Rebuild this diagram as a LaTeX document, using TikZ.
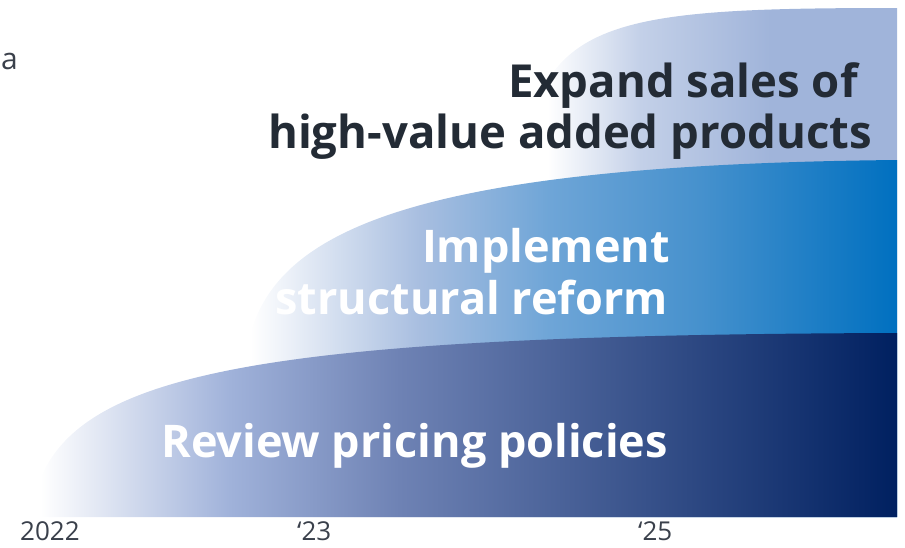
\documentclass[tikz,border=0pt]{standalone}
\usepackage{fontspec}
\setmainfont{Open Sans}

\definecolor{textdark}{RGB}{35,43,53}
\definecolor{yeargray}{RGB}{58,64,75}
\definecolor{navy}{RGB}{0,32,96}
\definecolor{paleblue}{RGB}{160,178,218}
\definecolor{slateblue}{RGB}{110,130,180}
\definecolor{lightblue}{RGB}{168,190,224}
\definecolor{skyblue}{RGB}{110,165,215}
\definecolor{steelblue}{RGB}{70,145,205}
\definecolor{corpblue}{RGB}{0,112,192}
\definecolor{mistblue}{RGB}{195,208,232}
\definecolor{topblue}{RGB}{160,180,218}

% Horizontal shadings (25bp = left edge of the path, 75bp = right edge)
\pgfdeclarehorizontalshading{pricingshade}{100bp}{color(0bp)=(white); color(25.6bp)=(white); color(36.5bp)=(paleblue); color(46.3bp)=(slateblue); color(75bp)=(navy); color(100bp)=(navy)}
\pgfdeclarehorizontalshading{reformshade}{100bp}{color(0bp)=(white); color(25.4bp)=(white); color(38.4bp)=(lightblue); color(48.4bp)=(skyblue); color(59.9bp)=(steelblue); color(75bp)=(corpblue); color(100bp)=(corpblue)}
\pgfdeclarehorizontalshading{salesshade}{100bp}{color(0bp)=(white); color(28.7bp)=(white); color(41bp)=(mistblue); color(58.2bp)=(topblue); color(75bp)=(topblue); color(100bp)=(topblue)}

\begin{document}
\begin{tikzpicture}[x=1pt, y=-1pt,
    bigdark/.style={inner sep=0pt, text=textdark, font=\fontsize{45.5}{50}\selectfont\bfseries},
    bigwhite/.style={inner sep=0pt, text=white, font=\fontsize{45}{50}\selectfont\bfseries},
    yearlabel/.style={inner sep=0pt, text=yeargray, font=\fontsize{26}{29}\selectfont}]

    % Fix the size of the picture
    \useasboundingbox (0,0) rectangle (905,547);

    % Corners of the three steps along the base line
    \coordinate (base) at (897,517);
    \coordinate (salesstart) at (520,185);
    \coordinate (reformstart) at (245,360);
    \coordinate (pricingstart) at (30,517);

    % Top step: high-value added products
    \shade[shading=salesshade] (salesstart) .. controls (535,20) and (600,8) .. (897,8) -- (base) -- (520,517) -- cycle;

    % Middle step: structural reform
    \shade[shading=reformshade] (reformstart) .. controls (260,240) and (380,165) .. (897,160) -- (base) -- (245,517) -- cycle;

    % Bottom step: pricing policies
    \shade[shading=pricingshade] (pricingstart) .. controls (50,380) and (200,335) .. (897,333) -- (base) -- cycle;

    % Labels of the steps
    \node[bigdark, anchor=base east] (expand) at (858,97) {Expand sales of};
    \node[bigdark, anchor=base east] (products) at (872,148) {high-value added products};
    \node[bigwhite, anchor=base east] (implement) at (670,262) {Implement};
    \node[bigwhite, anchor=base east] (structural) at (668,314) {structural reform};
    \node[bigwhite, anchor=base east] (pricing) at (668,457) {Review pricing policies};

    % Years along the base line
    \node[yearlabel, anchor=base west] (y22) at (20,540) {2022};
    \node[yearlabel, anchor=base west] (y23) at (297,540) {‘23};
    \node[yearlabel, anchor=base west] (y25) at (638,540) {‘25};

    % Letter at the top left
    \node[yearlabel, font=\fontsize{30}{33}\selectfont, anchor=base west] (cut) at (1,69) {a};

\end{tikzpicture}
\end{document}
